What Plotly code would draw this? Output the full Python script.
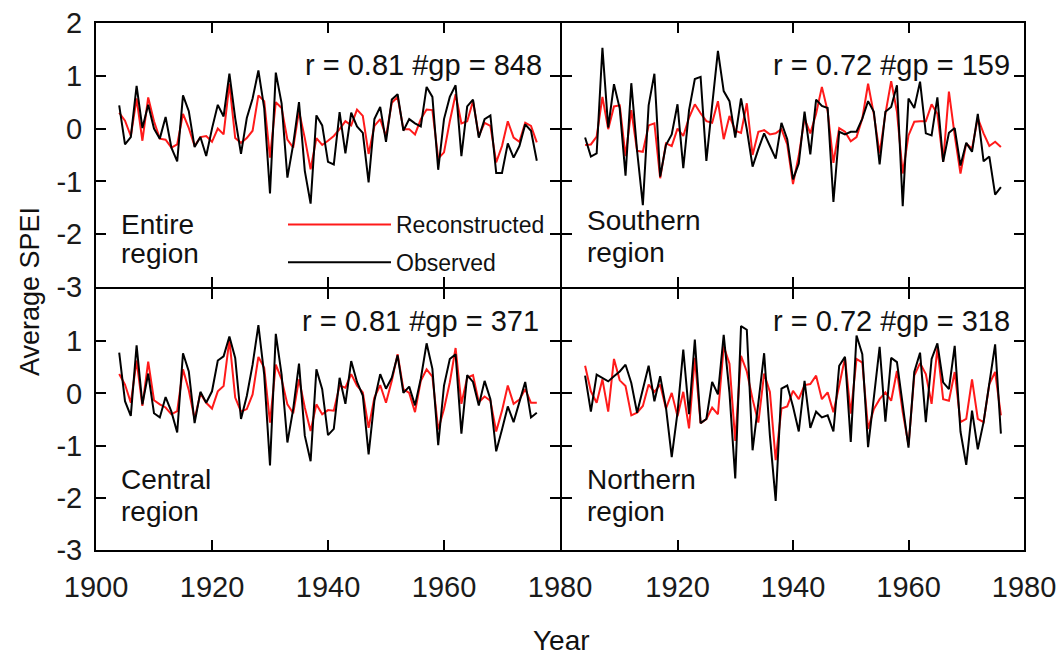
import plotly.graph_objects as go

years = list(range(1904, 1977))

entire_obs = [0.44, -0.30, -0.16, 0.81, 0.01, 0.45, 0.00, -0.19, 0.22, -0.36,
              -0.62, 0.63, 0.33, -0.35, -0.16, -0.52, 0.00, 0.45, 0.23, 1.04,
              0.20, -0.48, 0.20, 0.57, 1.10, 0.39, -1.23, 1.06, 0.48, -0.93,
              -0.30, 0.50, -0.80, -1.42, 0.25, 0.06, -0.63, -0.68, 0.31, -0.47,
              0.30, 0.04, -0.08, -1.02, 0.18, 0.41, -0.25, 0.55, 0.65, -0.04,
              0.18, 0.10, 0.04, 0.79, 0.60, -0.78, 0.18, 0.60, 0.82, -0.52,
              0.42, 0.55, -0.17, 0.18, 0.25, -0.84, -0.84, -0.28, -0.55, -0.33,
              0.08, -0.04, -0.61]
entire_rec = [0.30, 0.15, -0.14, 0.57, -0.23, 0.59, 0.14, -0.19, -0.21, -0.36,
              -0.30, 0.28, 0.01, -0.33, -0.16, -0.14, -0.25, 0.00, -0.11, 0.85,
              -0.18, -0.27, -0.18, -0.04, 0.63, 0.52, -0.55, 0.50, 0.39, -0.21,
              -0.36, 0.33, -0.18, -0.77, -0.18, -0.31, -0.23, -0.14, -0.01, 0.14,
              0.06, 0.36, 0.24, -0.48, 0.05, 0.18, -0.15, 0.49, 0.60, -0.01,
              -0.01, -0.11, 0.18, 0.36, 0.35, -0.57, -0.45, 0.14, 0.65, 0.10,
              0.14, 0.52, -0.14, 0.11, 0.05, -0.64, -0.33, 0.14, -0.17, -0.25,
              0.11, 0.05, -0.26]

southern_obs = [-0.17, -0.53, -0.47, 1.53, 0.02, 0.84, 0.38, -0.89, 0.86, -0.42,
                -1.45, 0.44, 1.04, -0.91, -0.31, -0.11, 0.46, -0.75, 0.35, 0.94,
                0.98, -0.61, 0.44, 1.47, 0.71, 0.52, -0.17, 0.57, -0.01, -0.72,
                -0.39, -0.09, -0.33, -0.57, 0.11, -0.20, -0.96, -0.66, 0.32, -0.49,
                0.55, 0.43, 0.39, -1.39, -0.06, -0.11, -0.06, -0.06, 0.19, 0.52,
                0.32, -0.68, 0.32, 0.41, 0.82, -1.47, 0.57, 0.39, 0.89, -0.09,
                -0.13, 0.59, -0.63, -0.08, 0.01, -0.70, -0.27, -0.44, 0.28, -0.62,
                -0.53, -1.25, -1.11]
southern_rec = [-0.31, -0.30, -0.15, 0.60, -0.01, 0.42, 0.44, -0.52, 0.35, -0.42,
                -0.44, 0.06, 0.10, -0.94, -0.28, -0.33, 0.00, -0.14, 0.21, 0.46,
                0.29, 0.14, 0.11, 0.52, -0.20, 0.24, -0.04, -0.08, 0.48, -0.50,
                -0.06, -0.03, -0.11, -0.09, -0.01, -0.30, -1.05, -0.51, 0.19, -0.09,
                0.28, 0.79, 0.33, -0.65, 0.01, -0.06, -0.24, -0.16, 0.19, 0.85,
                0.27, -0.47, 0.28, 0.90, 0.32, -0.85, -0.13, 0.13, 0.14, 0.14,
                0.46, 0.28, -0.63, 0.70, -0.13, -0.85, -0.28, -0.38, 0.20, -0.09,
                -0.33, -0.25, -0.35]

central_obs = [0.78, -0.15, -0.43, 0.92, -0.21, 0.38, -0.38, -0.46, -0.07, -0.35,
               -0.75, 0.77, 0.42, -0.57, 0.03, -0.18, 0.04, 0.63, 0.71, 1.09,
               0.68, -0.49, -0.05, 0.55, 1.31, 0.36, -1.38, 1.14, 0.36, -0.94,
               -0.30, 0.57, -0.81, -1.30, 0.46, 0.08, -0.80, -0.68, 0.30, -0.20,
               0.62, 0.22, -0.04, -1.17, -0.14, 0.37, 0.09, 0.30, 0.73, 0.01,
               0.13, -0.23, 0.28, 0.96, 0.47, -0.99, 0.15, 0.66, 0.75, -0.77,
               0.35, 0.22, -0.23, 0.24, -0.11, -1.11, -0.69, -0.25, -0.55, -0.18,
               0.22, -0.46, -0.37]
central_rec = [0.37, 0.17, -0.18, 0.63, -0.24, 0.61, -0.13, -0.21, -0.27, -0.40,
               -0.34, 0.46, 0.06, -0.49, 0.00, -0.18, -0.29, 0.04, 0.14, 1.03,
               -0.08, -0.35, -0.30, -0.02, 0.70, 0.49, -0.56, 0.55, 0.27, -0.21,
               -0.38, 0.27, -0.27, -0.72, -0.21, -0.40, -0.32, -0.33, 0.15, 0.11,
               0.37, 0.15, 0.02, -0.66, -0.08, 0.16, -0.18, 0.24, 0.75, 0.08,
               0.01, -0.36, 0.24, 0.46, 0.32, -0.69, -0.30, 0.21, 0.87, -0.20,
               0.30, 0.35, -0.17, -0.06, -0.14, -0.73, -0.33, 0.15, -0.20, -0.12,
               0.08, -0.18, -0.18]

northern_obs = [0.34, -0.35, 0.36, 0.30, 0.23, 0.33, 0.42, 0.55, 0.20, -0.37,
                0.08, 0.53, -0.15, 0.33, -0.27, -1.22, -0.37, 0.84, -0.40, 1.03,
                -0.57, -0.49, 0.22, -0.02, 1.12, 0.01, -1.63, 1.29, 1.22, -1.09,
                -0.18, 0.77, -0.81, -2.06, 0.09, 0.15, -0.25, -0.73, 0.24, -0.66,
                -0.35, -0.46, -0.42, -0.73, 0.53, 0.70, -0.93, 1.11, 0.75, -1.03,
                -0.08, 0.89, -0.54, 0.68, 0.60, -0.23, -1.04, 0.41, 0.78, -0.55,
                0.66, 0.96, 0.21, 0.08, 0.91, -0.73, -1.37, -0.33, -1.07, -0.55,
                0.21, 0.94, -0.77]
northern_rec = [0.53, 0.04, -0.18, 0.27, -0.35, 0.66, 0.25, 0.14, -0.42, -0.37,
                -0.24, 0.17, 0.03, 0.17, -0.29, 0.01, -0.44, 0.03, -0.67, 0.68,
                -0.57, -0.49, -0.27, -0.40, 0.90, 0.57, -0.91, 0.72, 0.42, -0.11,
                -0.56, 0.38, 0.03, -1.28, -0.29, -0.25, 0.05, -0.11, 0.16, 0.18,
                0.34, -0.11, 0.02, -0.36, 0.15, 0.68, -0.39, 0.66, 0.59, -0.68,
                -0.30, -0.11, 0.02, -0.14, 0.43, -0.36, -0.99, 0.34, 0.58, 0.37,
                -0.20, 0.87, -0.11, -0.14, 0.41, -0.55, -0.49, 0.27, -0.49, -0.55,
                0.18, 0.41, -0.42]

panel_names = [("Entire", "region"), ("Southern", "region"), ("Central", "region"), ("Northern", "region")]
panel_stats = ["r = 0.81 #gp = 848", "r = 0.72 #gp = 159", "r = 0.81 #gp = 371", "r = 0.72 #gp = 318"]
observed = [entire_obs, southern_obs, central_obs, northern_obs]
reconstructed = [entire_rec, southern_rec, central_rec, northern_rec]

x_ticks = [1900, 1920, 1940, 1960, 1980]
y_ticks = [-3, -2, -1, 0, 1, 2]

FONT = "Liberation Sans, Arial, sans-serif"
W, H = 1060, 655
xL = [96 / W, 560 / W]
xR = [562 / W, 1024 / W]
yT = [1 - 287 / H, 1 - 23 / H]
yB = [1 - 550 / H, 1 - 289 / H]

fig = go.Figure()

for i in range(4):
    xa = "x" if i == 0 else f"x{i+1}"
    ya = "y" if i == 0 else f"y{i+1}"
    fig.add_trace(go.Scatter(x=years, y=reconstructed[i], mode="lines",
                             line=dict(color="#ff1a1a", width=2),
                             name="Reconstructed", legendgroup="rec",
                             showlegend=(i == 0), xaxis=xa, yaxis=ya))
    fig.add_trace(go.Scatter(x=years, y=observed[i], mode="lines",
                             line=dict(color="#000000", width=2),
                             name="Observed", legendgroup="obs",
                             showlegend=(i == 0), xaxis=xa, yaxis=ya))

tickfont = dict(family=FONT, size=29, color="#1a1a1a")
common = dict(showline=True, linecolor="black", linewidth=2, mirror="allticks",
              ticks="inside", ticklen=10, tickwidth=2, tickcolor="black",
              showgrid=False, zeroline=False, tickfont=tickfont, automargin=False)

domains = [(xL, yT), (xR, yT), (xL, yB), (xR, yB)]
layout_axes = {}
for i, (dx, dy) in enumerate(domains):
    suffix = "" if i == 0 else str(i + 1)
    anchor_x = "y" if i == 0 else f"y{i+1}"
    anchor_y = "x" if i == 0 else f"x{i+1}"
    bottom = i >= 2
    left = i % 2 == 0
    xt = [str(v) for v in x_ticks]
    if i == 3:
        xt[0] = ""
    yt = [str(v) for v in y_ticks]
    if i == 2:
        yt[-1] = ""
    layout_axes["xaxis" + suffix] = dict(common, domain=dx, anchor=anchor_x,
                                         range=[1900, 1980], tickvals=x_ticks,
                                         ticktext=xt, showticklabels=bottom,
                                         ticklabelstandoff=10)
    layout_axes["yaxis" + suffix] = dict(common, domain=dy, anchor=anchor_y,
                                         range=[-3, 2], tickvals=y_ticks,
                                         ticktext=yt, showticklabels=left,
                                         ticklabelstandoff=6)

fig.update_layout(**layout_axes)

annotations = []
stat_x = [0.965, 0.975, 0.96, 0.975]
stat_y = [0.842, 0.842, 0.878, 0.878]
# vertical positions (domain fraction) of first and second line of each region label
name_y1 = [0.238, 0.250, 0.270, 0.270]
name_y2 = [0.125, 0.130, 0.148, 0.148]
for i in range(4):
    suffix = "" if i == 0 else str(i + 1)
    annotations.append(dict(text=panel_stats[i], xref=f"x{suffix} domain", yref=f"y{suffix} domain",
                            x=stat_x[i], y=stat_y[i], xanchor="right", yanchor="middle",
                            showarrow=False, font=dict(family=FONT, size=29, color="#111")))
    for line_text, yy in zip(panel_names[i], (name_y1[i], name_y2[i])):
        annotations.append(dict(text=line_text, xref=f"x{suffix} domain", yref=f"y{suffix} domain",
                                x=0.05, y=yy, xanchor="left", yanchor="middle", align="left",
                                showarrow=False, font=dict(family=FONT, size=28, color="#111")))

annotations.append(dict(text="Average SPEI", xref="paper", yref="paper", x=30 / W, y=1 - 292 / H,
                        textangle=-90, xanchor="center", yanchor="middle", showarrow=False,
                        font=dict(family=FONT, size=27, color="#111")))
annotations.append(dict(text="Year", xref="paper", yref="paper", x=561 / W, y=1 - 640 / H,
                        xanchor="center", yanchor="middle", showarrow=False,
                        font=dict(family=FONT, size=28, color="#111")))

fig.update_layout(
    width=W, height=H,
    margin=dict(l=0, r=0, t=0, b=0),
    paper_bgcolor="white", plot_bgcolor="white",
    annotations=annotations,
    showlegend=True,
    legend=dict(x=283 / W, y=1 - 203 / H, xanchor="left", yanchor="top",
                bgcolor="rgba(0,0,0,0)", font=dict(family=FONT, size=23, color="#111"),
                itemwidth=103, tracegroupgap=5),
)

fig.write_html("out.html")
